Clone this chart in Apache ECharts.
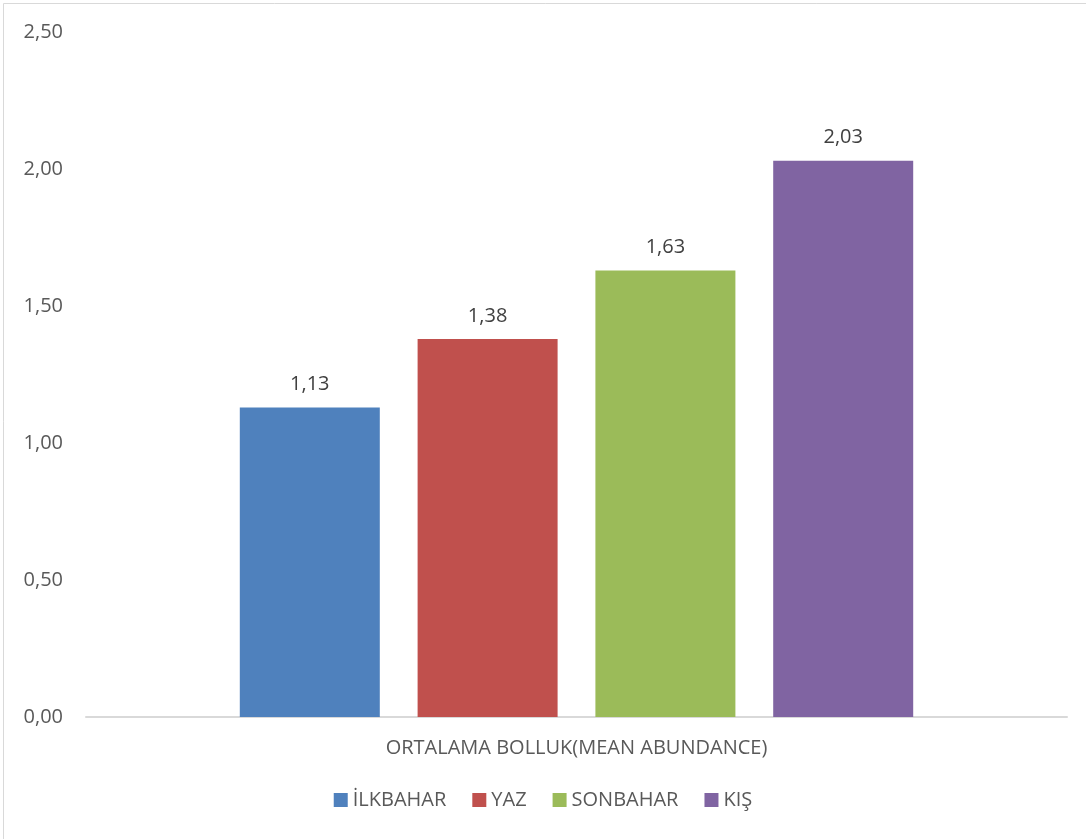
<!DOCTYPE html>
<html>
<head>
<meta charset="utf-8">
<script src="https://cdn.jsdelivr.net/npm/echarts@6/dist/echarts.min.js"></script>
<style>
  html, body { margin: 0; padding: 0; background: #fff; }
  #chart { width: 1086px; height: 839px; }
</style>
</head>
<body>
<div id="chart"></div>
<script>
// data
const categories = ['ORTALAMA BOLLUK(MEAN ABUNDANCE)'];
const seasons = ['İLKBAHAR', 'YAZ', 'SONBAHAR', 'KIŞ'];
const values = [1.13, 1.38, 1.63, 2.03];
const colors = ['#4F81BD', '#C0504D', '#9BBB59', '#8064A2'];

const fmt = v => v.toFixed(2).replace('.', ',');
const font = '"Open Sans", "Noto Sans", sans-serif';

const chart = echarts.init(document.getElementById('chart'));

const option = {
  animation: false,
  textStyle: { fontFamily: font },
  graphic: [{
    type: 'rect',
    shape: { x: 3.5, y: 3.5, width: 1100, height: 900 },
    style: { fill: 'none', stroke: '#d9d9d9', lineWidth: 1 },
    silent: true
  }],
  legend: {
    data: seasons,
    bottom: 24,
    left: 'center',
    itemWidth: 14,
    itemHeight: 14,
    itemGap: 26,
    icon: 'rect',
    textStyle: { color: '#595959', fontSize: 20, fontFamily: font }
  },
  grid: {
    left: 86,
    right: 19,
    top: 32,
    bottom: 122
  },
  xAxis: {
    type: 'category',
    data: categories,
    axisLine: { lineStyle: { color: '#d9d9d9', width: 2 } },
    axisTick: { show: false },
    axisLabel: { color: '#595959', fontSize: 20, margin: 21, fontFamily: font }
  },
  yAxis: {
    type: 'value',
    min: 0,
    max: 2.5,
    interval: 0.5,
    axisLine: { show: false },
    axisTick: { show: false },
    splitLine: { show: false },
    axisLabel: {
      color: '#595959',
      fontSize: 20,
      margin: 23,
      fontFamily: font,
      formatter: v => fmt(v)
    }
  },
  series: seasons.map((name, i) => ({
    name: name,
    type: 'bar',
    data: [values[i]],
    barWidth: 140,
    barGap: '27%',
    itemStyle: { color: colors[i] },
    label: {
      show: true,
      position: 'top',
      distance: 13,
      color: '#404040',
      fontSize: 20,
      fontFamily: font,
      formatter: p => fmt(p.value)
    }
  }))
};

chart.setOption(option);
</script>
</body>
</html>
